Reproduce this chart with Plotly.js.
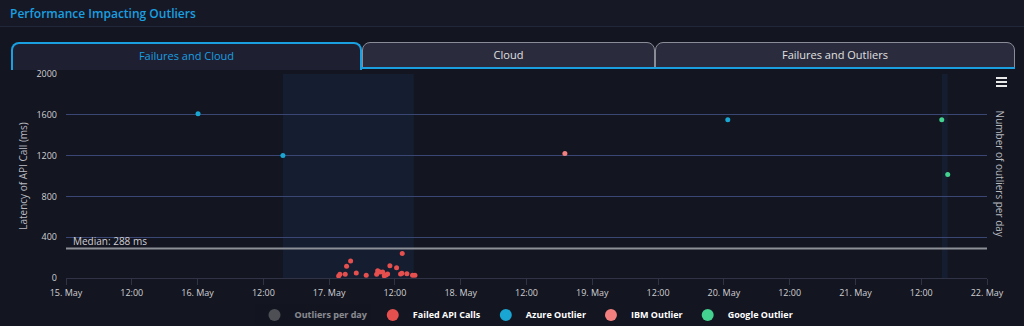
<!DOCTYPE html>
<html>
<head>
<meta charset="utf-8">
<script src="https://cdn.plot.ly/plotly-3.0.1.min.js"></script>
<style>
  html, body { margin:0; padding:0; width:1024px; height:326px; overflow:hidden; background:#131520; font-family:"Open Sans", "Noto Sans", sans-serif; }
  #header { position:absolute; left:0; top:0; width:1024px; height:26px; background:#161925; border-bottom:1px solid #22263a; }
  #header span { position:absolute; left:10px; top:5px; font-size:12px; font-weight:600; color:#1a9fe0; }
  .tab { position:absolute; top:42px; height:26px; box-sizing:border-box; border-radius:8px 8px 0 0; text-align:center; font-size:11px; line-height:24px; }
  #tab1 { left:11px; width:351px; height:28px; background:#1e2032; border:2px solid #1a9fe0; border-bottom:none; color:#1a9fe0; z-index:2; }
  #tab2 { left:362px; width:293px; background:#2a2c3d; border:1px solid #8a8c98; color:#e0e0e0; }
  #tab3 { left:655px; width:360px; background:#2a2c3d; border:1px solid #8a8c98; color:#e0e0e0; }
  #tabline { position:absolute; left:362px; top:67px; width:653px; height:2px; background:#1a9fe0; }
  #chart { position:absolute; left:0; top:0; width:1024px; height:326px; }
  #menu { position:absolute; left:996px; top:77px; width:11px; }
  #menu div { height:2px; background:#e8e8e8; margin-bottom:2px; }
</style>
</head>
<body>
<div id="chart"></div>
<div id="header"><span>Performance Impacting Outliers</span></div>
<div class="tab" id="tab1">Failures and Cloud</div>
<div class="tab" id="tab2">Cloud</div>
<div class="tab" id="tab3">Failures and Outliers</div>
<div id="tabline"></div>
<div id="menu"><div></div><div></div><div></div></div>
<script>
// ---- data ----
const xRange = ['2023-05-15 00:00', '2023-05-22 00:00'];
const tickVals = ['2023-05-15 00:00','2023-05-15 12:00','2023-05-16 00:00','2023-05-16 12:00','2023-05-17 00:00','2023-05-17 12:00','2023-05-18 00:00','2023-05-18 12:00','2023-05-19 00:00','2023-05-19 12:00','2023-05-20 00:00','2023-05-20 12:00','2023-05-21 00:00','2023-05-21 12:00','2023-05-22 00:00'];
const tickText = ['15. May','12:00','16. May','12:00','17. May','12:00','18. May','12:00','19. May','12:00','20. May','12:00','21. May','12:00','22. May'];
const yTicks = [0, 400, 800, 1200, 1600, 2000];

const failedTimes = ['2023-05-17 01:44','2023-05-17 01:58','2023-05-17 02:56','2023-05-17 03:11','2023-05-17 03:55','2023-05-17 04:57','2023-05-17 06:46','2023-05-17 08:40','2023-05-17 08:51','2023-05-17 09:16','2023-05-17 09:46','2023-05-17 10:03','2023-05-17 10:22','2023-05-17 10:40','2023-05-17 11:05','2023-05-17 12:18','2023-05-17 13:02','2023-05-17 13:16','2023-05-17 13:20','2023-05-17 14:11','2023-05-17 15:13','2023-05-17 15:39'];
const failedLatency = [20, 36, 36, 114, 166, 49, 26, 36, 71, 59, 59, 22, 29, 39, 120, 100, 39, 46, 241, 42, 26, 26];

const azureTimes = ['2023-05-16 00:05','2023-05-16 15:34','2023-05-20 00:43'];
const azureLatency = [1610, 1200, 1551];

const ibmTimes = ['2023-05-18 19:00'];
const ibmLatency = [1220];

const googleTimes = ['2023-05-21 15:45','2023-05-21 16:50'];
const googleLatency = [1551, 1015];

const outlierDays = ['2023-05-16 12:00','2023-05-17 12:00','2023-05-18 12:00','2023-05-20 12:00','2023-05-21 12:00'];
const outlierCounts = [2, 22, 1, 1, 2];

const medianLatency = 288;
const bands = [['2023-05-16 15:34','2023-05-17 15:27'], ['2023-05-21 15:45','2023-05-21 16:50']];

// ---- chart ----
const traces = [
  {name:'Outliers per day', x:outlierDays, y:outlierCounts, yaxis:'y2', type:'scatter', mode:'markers',
   marker:{color:'#8a8a8a', size:9}, visible:'legendonly'},
  {name:'Failed API Calls', x:failedTimes, y:failedLatency, type:'scatter', mode:'markers', marker:{color:'#e5504f', size:5}},
  {name:'Azure Outlier', x:azureTimes, y:azureLatency, type:'scatter', mode:'markers', marker:{color:'#1aa6d2', size:5}},
  {name:'IBM Outlier', x:ibmTimes, y:ibmLatency, type:'scatter', mode:'markers', marker:{color:'#f47f7f', size:5}},
  {name:'Google Outlier', x:googleTimes, y:googleLatency, type:'scatter', mode:'markers', marker:{color:'#43d28f', size:5}}
];

const shapes = bands.map(b => ({type:'rect', xref:'x', yref:'paper', x0:b[0], x1:b[1], y0:0, y1:1,
  fillcolor:'#151d30', line:{width:0}, layer:'below'}));
shapes.push({type:'line', xref:'paper', yref:'y', x0:0, x1:1, y0:medianLatency, y1:medianLatency,
  line:{color:'#8e9098', width:2}, layer:'above'});

const layout = {
  width:1024, height:326,
  margin:{l:66, r:37, t:74, b:48, autoexpand:false},
  paper_bgcolor:'rgba(0,0,0,0)', plot_bgcolor:'rgba(0,0,0,0)',
  font:{family:'"Open Sans", "Noto Sans", sans-serif', color:'#cfd0d4', size:9},
  showlegend:true,
  legend:{orientation:'h', x:0.5, xanchor:'center', y:-0.11, yanchor:'top', itemwidth:30, itemsizing:'constant',
    font:{color:'#ffffff', size:9, weight:700}, bgcolor:'rgba(0,0,0,0)'},
  xaxis:{type:'date', range:xRange, tickmode:'array', tickvals:tickVals, ticktext:tickText,
    showgrid:false, zeroline:false, showline:true, linecolor:'#2f3345', linewidth:1,
    ticks:'outside', ticklen:6, tickcolor:'#2f3345', tickfont:{size:9, color:'#cfd0d4'}, fixedrange:true},
  yaxis:{range:[0,2000], tickmode:'array', tickvals:yTicks, showgrid:true, gridcolor:'#3a4674', gridwidth:1,
    zeroline:false, showline:false, ticks:'', ticklabelstandoff:8, tickfont:{size:9, color:'#cfd0d4'},
    title:{text:'Latency of API Call (ms)', font:{size:10, color:'#b8bac0'}, standoff:6}, fixedrange:true},
  yaxis2:{overlaying:'y', side:'right', range:[0,30], showgrid:false, zeroline:false, showticklabels:false, ticks:'', fixedrange:true},
  shapes:shapes,
  annotations:[
    {xref:'paper', yref:'y', x:0, y:medianLatency, xanchor:'left', yanchor:'bottom', xshift:5, yshift:-1,
     text:'Median: 288 ms', showarrow:false, font:{size:10, color:'#d0d0d4'}},
    {xref:'paper', yref:'paper', x:1.0145, y:0.51, xanchor:'center', yanchor:'middle', textangle:90,
     text:'Number of outliers per day', showarrow:false, font:{size:10, color:'#b8bac0'}}
  ]
};

Plotly.newPlot('chart', traces, layout, {displayModeBar:false});
</script>
</body>
</html>
